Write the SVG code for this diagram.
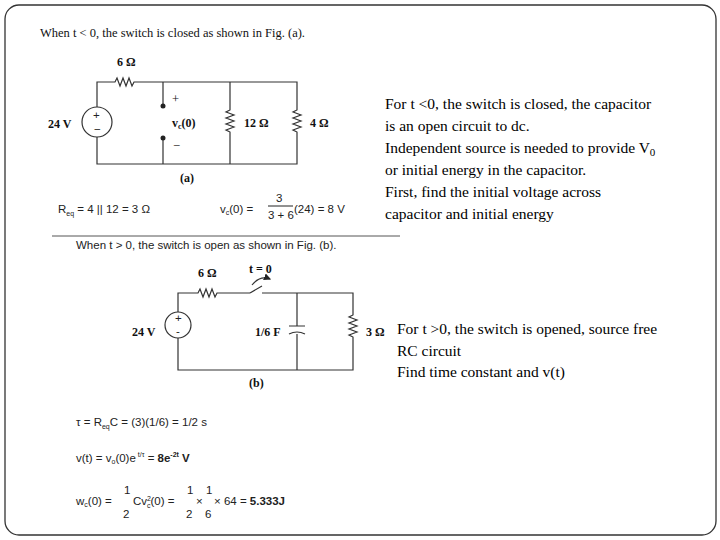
<svg xmlns="http://www.w3.org/2000/svg" width="720" height="540" viewBox="0 0 720 540">
<style>
.w{fill:none;stroke:#333;stroke-width:1.2}
.t{font-family:"Liberation Serif",serif;font-size:12.5px;fill:#111}
.b{font-family:"Liberation Serif",serif;font-size:12px;font-weight:bold;fill:#111}
.s{font-family:"Liberation Sans",sans-serif;font-size:11.5px;fill:#222}
.r{font-family:"Liberation Serif",serif;font-size:15.5px;fill:#000}
</style>
<defs><marker id="ah" markerWidth="6" markerHeight="6" refX="5" refY="3" orient="auto"><path d="M0,0L6,3L0,6z" fill="#222"/></marker></defs>
<rect x="5" y="5" width="711" height="530" rx="14" fill="#fff" stroke="#333" stroke-width="1.3"/>
<g id="circuit-a">
<text class="t" x="40" y="37">When t &lt; 0, the switch is closed as shown in Fig. (a).</text>
<g id="connectors-a" class="w">
<path d="M97,107V82H115l2,-4 3,8 3,-8 3,8 3,-8 3,8 2,-4H297V110l-4,2 8,3 -8,3 8,3 -8,3 8,3 -8,3 4,2V164H97V137"/>
<path d="M163,82V106M163,138V164M230,82V110l-4,2 8,3 -8,3 8,3 -8,3 8,3 -8,3 4,2V164"/>
</g>
<circle cx="97" cy="122" r="15" class="w"/>
<text class="s" x="93" y="119" font-size="9">+</text><text class="s" x="94" y="133">−</text>
<circle cx="163" cy="106" r="2.5" fill="#222"/><circle cx="163" cy="138" r="2.5" fill="#222"/>
<text class="b" x="117" y="66">6 Ω</text>
<text class="b" x="48" y="128">24 V</text>
<text class="t" x="172" y="103" font-size="13">+</text>
<text class="b" x="172" y="127">v<tspan font-size="8" dy="2">c</tspan><tspan dy="-2">(0)</tspan></text>
<text class="t" x="173" y="150" font-size="13">−</text>
<text class="b" x="244" y="127">12 Ω</text>
<text class="b" x="310" y="127">4 Ω</text>
<text class="b" x="180" y="182">(a)</text>
<text class="s" x="58" y="213" font-size="12">R<tspan font-size="7" dy="3">eq</tspan><tspan dy="-3"> = 4 || 12 = 3 Ω</tspan></text>
<text class="s" x="220" y="213" font-size="12">v<tspan font-size="7" dy="2">c</tspan><tspan dy="-2">(0) =</tspan></text>
<text class="s" x="276" y="202" font-size="12">3</text>
<line x1="268" y1="206" x2="293" y2="206" stroke="#222"/>
<text class="s" x="268" y="219" font-size="12">3 + 6</text>
<text class="s" x="294" y="213" font-size="12">(24) = 8 V</text>
<line x1="52" y1="236" x2="400" y2="236" stroke="#555" stroke-width="1"/>
</g>
<g id="circuit-b">
<text class="s" x="76" y="249">When t &gt; 0, the switch is open as shown in Fig. (b).</text>
<g id="connectors-b" class="w">
<path d="M178,312V293H198l2,-4 3,8 3,-8 3,8 3,-8 3,8 2,-4H250M262,293H353V315l-4,2 8,3 -8,3 8,3 -8,3 8,3 -8,3 4,2V370H178V338"/>
<path d="M250,293l12,-7M297,293V326M297,334V370"/>
<path d="M289,326H305M289,334q8,-4 16,0"/>
<path d="M252,285q8,-10 18,-6" marker-end="url(#ah)"/>
</g>
<circle cx="178" cy="325" r="13" class="w"/>
<text class="s" x="175" y="322" font-size="8">+</text><text class="s" x="176" y="335" font-size="9">-</text>
<text class="b" x="198" y="277">6 Ω</text>
<text class="b" x="249" y="273">t = 0</text>
<text class="b" x="132" y="336">24 V</text>
<text class="b" x="255" y="336">1/6 F</text>
<text class="b" x="366" y="336">3 Ω</text>
<text class="b" x="249" y="387">(b)</text>
<text class="s" x="76" y="426">τ = R<tspan font-size="7" dy="3">eq</tspan><tspan dy="-3">C = (3)(1/6) = 1/2 s</tspan></text>
<text class="s" x="76" y="462">v(t) = v<tspan font-size="7" dy="2">o</tspan><tspan dy="-2">(0)e</tspan><tspan font-size="7" dy="-5"> t/τ</tspan><tspan dy="5"> = </tspan><tspan font-weight="bold">8e<tspan font-size="7" dy="-5">-2t</tspan><tspan dy="5"> V</tspan></tspan></text>
<text class="s" x="76" y="505">w<tspan font-size="7" dy="2">c</tspan><tspan dy="-2">(0) =</tspan></text>
<text class="s" x="124" y="494">1</text><text class="s" x="123" y="518" font-size="12">2</text>
<text class="s" x="133" y="505">Cv<tspan font-size="7" dy="-4">2</tspan><tspan font-size="7" dx="-4" dy="7">c</tspan><tspan dy="-3">(0) =</tspan></text>
<text class="s" x="187" y="494">1</text><text class="s" x="186" y="518">2</text>
<text class="s" x="196" y="505">×</text>
<text class="s" x="206" y="494">1</text><text class="s" x="205" y="518">6</text>
<text class="s" x="214" y="505">× 64 = <tspan font-weight="bold">5.333J</tspan></text>
</g>
<g id="notes">
<text class="r" x="385" y="109">For t &lt;0, the switch is closed, the capacitor</text>
<text class="r" x="385" y="131">is an open circuit to dc.</text>
<text class="r" x="385" y="153">Independent source is needed to provide V<tspan font-size="11" dy="3">0</tspan></text>
<text class="r" x="385" y="175">or initial energy in the capacitor.</text>
<text class="r" x="385" y="197">First, find the initial voltage across</text>
<text class="r" x="385" y="219">capacitor and initial energy</text>
<text class="r" x="397" y="334">For t &gt;0, the switch is opened, source free</text>
<text class="r" x="397" y="356">RC circuit</text>
<text class="r" x="397" y="377">Find time constant and v(t)</text>
</g>
</svg>
